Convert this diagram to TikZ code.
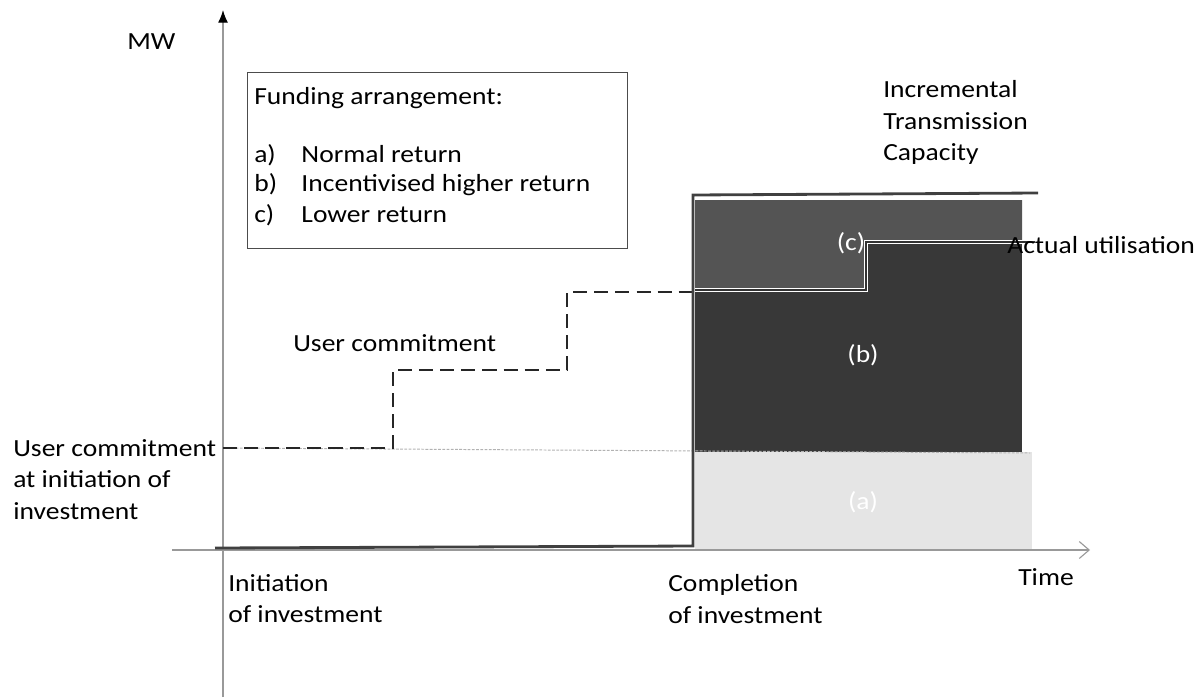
\documentclass[tikz,border=0pt]{standalone}
\usepackage{fontspec}
\setmainfont{Carlito}[FakeStretch=1.12]
\usetikzlibrary{arrows.meta}

\newcommand{\itm}[2]{\makebox[1.18cm][l]{#1}#2}

\begin{document}
\begin{tikzpicture}
      [x=0.025cm,y=-0.025cm,%%%%%%%%%%%%%%%%%%%%%%%%%%%%%%
      lbl/.style={inner sep=0pt,font=\fontsize{17.5}{22.5}\selectfont,align=left},
      wlbl/.style={lbl,text=white},
      axis/.style={draw=gray!80,line width=0.8pt},
      capline/.style={draw=black!75,line width=2pt},
      util/.style={draw=white,line width=3.2pt},
      utilcore/.style={draw=black!80,line width=1pt},
      ]%%%%%%%%%%%%%%%%%%%%%%%%%%%%%%
      \useasboundingbox (0,0) rectangle (1200,697);

      % areas
      \fill[black!10] (695,452) rectangle (1032,549);
      \fill[black!78] (695,200) rectangle (1022,452);
      \fill[black!67] (695,200) -- (1022,200) -- (1022,242) -- (866,242) -- (866,290) -- (695,290) -- cycle;
      \draw[draw=white,line width=1pt] (697,199) -- (1022,199);

      % axes
      \coordinate (o) at (223,550);
      \coordinate (ytop) at (223,10);
      \coordinate (ybot) at (223,697);
      \coordinate (xleft) at (172,550);
      \coordinate (xend) at (1090,550);
      \draw[axis,-{Straight Barb[length=7pt,width=12pt]}] (xleft) -- (xend);
      \draw[axis,-{Latex[black,length=9pt,width=7pt]}] (ybot) -- (ytop);

      % user commitment
      \coordinate (u0) at (223,448);
      \coordinate (u1) at (393,448);
      \coordinate (u2) at (393,370);
      \coordinate (u3) at (567,370);
      \coordinate (u4) at (567,292);
      \coordinate (u5) at (693,292);
      \coordinate (uend) at (1030,453);
      \draw[gray!60,dash pattern=on 2pt off 1pt,line width=0.7pt] (u0) -- (uend);
      \draw[black!85,line width=2pt,dash pattern=on 10pt off 5pt] (u0) -- (u1) -- (u2) -- (u3) -- (u4) -- (u5);

      % actual utilisation
      \coordinate (a0) at (695,290);
      \coordinate (a1) at (866,290);
      \coordinate (a2) at (866,242);
      \coordinate (a3) at (1035,242);
      \draw[util] (a0) -- (a1) -- (a2) -- (a3);
      \draw[utilcore] (a0) -- (a1) -- (a2) -- (a3);

      % incremental capacity
      \coordinate (c0) at (215,548);
      \coordinate (c1) at (693,546);
      \coordinate (c2) at (693,195);
      \coordinate (c3) at (1038,193);
      \draw[capline] (c0) -- (c1) -- (c2) -- (c3);

      % funding box
      \draw[draw=black!70,line width=0.6pt] (247,72) rectangle (627,248);
      \node[lbl,anchor=west] (fund) at (254,98) {Funding arrangement:};
      \node[lbl,anchor=west] (fa) at (254,155) {\itm{a)}{Normal return}};
      \node[lbl,anchor=west] (fb) at (254,185) {\itm{b)}{Incentivised higher return}};
      \node[lbl,anchor=west] (fc) at (254,215) {\itm{c)}{Lower return}};

      % labels
      \node[lbl,anchor=west] (mw) at (127,42) {MW};
      \node[lbl,anchor=north west] (inc) at (883,80) {Incremental\\Transmission\\Capacity};
      \node[lbl,anchor=west] (act) at (1007,245) {Actual utilisation};
      \node[lbl,anchor=west] (uc) at (293,343) {User commitment};
      \node[lbl,anchor=north west] (ucinit) at (13,439) {User commitment\\at initiation of\\investment};
      \node[lbl,anchor=north west] (init) at (228,574) {Initiation\\of investment};
      \node[lbl,anchor=north west] (comp) at (668,574) {Completion\\of investment};
      \node[lbl,anchor=west] (time) at (1018,577) {Time};
      \node[wlbl] (la) at (863,502) {(a)};
      \node[wlbl] (lb) at (863,355) {(b)};
      \node[wlbl] (lc) at (851,243) {(c)};
    \end{tikzpicture}
\end{document}
